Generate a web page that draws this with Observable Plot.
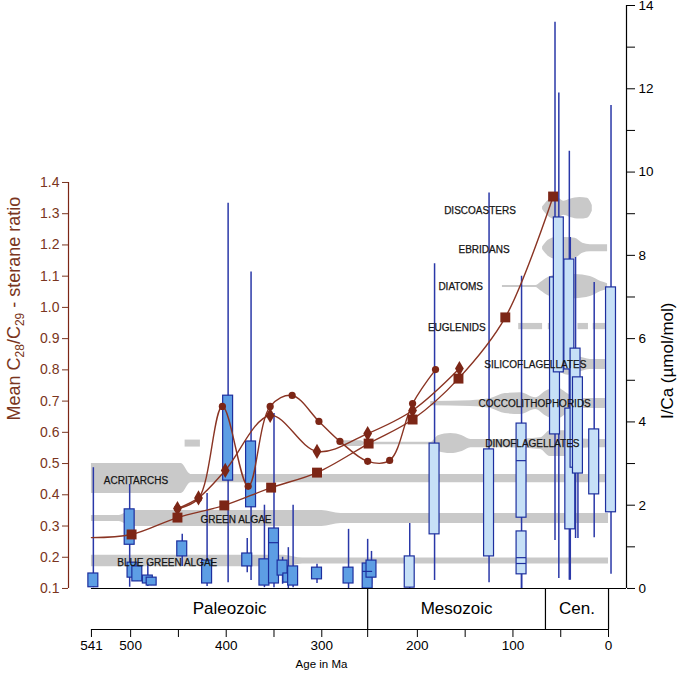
<!DOCTYPE html>
<html><head><meta charset="utf-8">
<script src="https://cdn.jsdelivr.net/npm/d3@7"></script>
<script src="https://cdn.jsdelivr.net/npm/@observablehq/plot@0.6"></script>
<style>body{margin:0;background:#fff} #chart svg{display:block}</style>
</head><body><div id="chart"></div>
<script>
// ---------------- DATA ----------------
// axes
const leftTicks = [0.1,0.2,0.3,0.4,0.5,0.6,0.7,0.8,0.9,1.0,1.1,1.2,1.3,1.4];
const rightTicksMajor = [0,2,4,6,8,10,12,14];
const rightTicksMinor = [1,3,5,7,9,11,13];
const ageTicksMajor = [541,500,400,300,200,100,0];
const ageTicksMinor = [450,350,252,150,50];
const eraNames = ["Paleozoic","Mesozoic","Cen."];
const eraStart = [541,252,66];
const eraEnd = [252,66,0];

// I/Ca box plots (age in Ma, µmol/mol)
const boxAge  = [539,501,498,493,482,478,446,420,398,378,374,360,350,341,335,330,305,272,252,248, 208,182,125,91,91,56,52,41,40,34.5,32,15,-2.6];
const boxLow  = [0.02,0.03,0.26,0.17,0.05,0.07,0.53,0.05,0.14,0.38,0.19,0.02,0.02,0.10,0.00,0.02,0.12,0.00,0.00,0.10, 0.00,0.19,0.14,0.00,0.00,1.15,0.24,0.20,0.20,1.20,1.20,1.22,0.34];
const boxQ1   = [0.03,1.05,0.26,0.17,0.12,0.07,0.77,0.12,2.59,0.53,1.95,0.07,0.12,0.31,0.14,0.07,0.22,0.12,0.00,0.26, 0.02,1.30,0.77,1.70,0.34,3.70,5.19,5.26,1.42,2.90,2.76,2.26,1.83];
const boxQ3   = [0.36,1.90,0.62,0.53,0.31,0.26,1.13,0.67,4.63,0.84,3.53,0.70,1.44,0.67,0.36,0.53,0.50,0.50,0.60,0.67, 0.77,3.48,3.34,3.96,1.37,7.47,8.91,7.90,4.32,5.76,5.07,3.82,7.23];
const boxHigh = [2.90,2.50,0.62,0.53,0.62,0.26,1.30,2.28,9.25,1.20,7.60,2.00,4.20,0.75,0.98,2.00,0.58,1.42,1.18,0.89, 1.56,7.80,9.50,7.50,1.37,13.6,11.9,10.5,8.43,7.95,5.07,7.35,11.6];
const boxEra  = ["P","P","P","P","P","P","P","P","P","P","P","P","P","P","P","P","P","P","P","P", "M","M","M","M","M","M","M","M","M","M","M","M","M"];
const medAge = [350,252,91,91,91];
const medVal = [1.10,0.41,3.07,0.60,0.74];

// Mean C28/C29 sterane ratio series
const sqAge   = [541,499,451,402,353,305,251,205,157,108,58];
const sqRatio = [0.263,0.273,0.327,0.366,0.423,0.471,0.564,0.641,0.772,0.968,1.355];
const sqMarker = [false,true,true,true,true,true,true,true,true,true,true];
const ciAge   = [451,429,404,377,354,331,303,281,252,229,205,181];
const ciRatio = [0.356,0.388,0.683,0.427,0.683,0.718,0.635,0.571,0.507,0.510,0.692,0.801];
const diAge   = [451,429,401,354,305,252,205,156];
const diRatio = [0.356,0.390,0.478,0.654,0.539,0.596,0.670,0.804];

// taxa ranges (centre on I/Ca scale, half-thickness in I/Ca units)
const taxaNames  = ["DISCOASTERS","EBRIDANS","DIATOMS","EUGLENIDS","SILICOFLAGELLATES","COCCOLITHOPHORIDS","DINOFLAGELLATES","ACRITARCHS","GREEN ALGAE","BLUE GREEN ALGAE"];
const taxaCenter = [9.13,8.17,7.25,6.29,5.38,4.44,3.48,2.64,1.68,0.66];
const taxaLabelAge = [172,157,178,189,130,136,129,528,427,514];
const taxaLabelVal = [9.08,8.14,7.25,6.27,5.38,4.44,3.48,2.59,1.66,0.62];

const discoAges = [69,63,57,52,47,40,30,22,17];
const discoHW   = [0.03,0.19,0.26,0.24,0.17,0.22,0.26,0.24,0.07];
const ebriAges  = [69,63,55,45,35,27,19,1];
const ebriHW    = [0.03,0.19,0.26,0.26,0.24,0.12,0.085,0.085];
const diatAges  = [111,76,71,63,50,35,19,8,1];
const diatHW    = [0.024,0.024,0.10,0.22,0.29,0.29,0.24,0.12,0.07];
const eugSegStart = [94,63,32,16];
const eugSegEnd   = [69,45,21,1];
const eugHW = 0.075;
const silAges = [56,50,42,31,19,1];
const silHW   = [0.05,0.19,0.26,0.19,0.12,0.12];
const cocAges = [186,144,123,108,92,76,66,54,43,34,19,1];
const cocHW   = [0.05,0.07,0.12,0.24,0.26,0.14,0.29,0.38,0.24,0.12,0.12,0.12];
const dinoAgesA = [443,427];
const dinoHWA   = [0.084,0.084];
const dinoAgesB = [277,259,255,186,178,165,153,144,103,71,61,45,34,19,1];
const dinoHWB   = [0.07,0.07,0.03,0.03,0.19,0.24,0.19,0.10,0.10,0.14,0.31,0.31,0.14,0.10,0.10];
const acriAges = [541,447,437,400,0];
const acriHW   = [0.36,0.36,0.10,0.10,0.10];
const greenAges = [541,512,500,300,280,0];
const greenHW   = [0.07,0.07,0.19,0.19,0.12,0.12];
const bgAges = [541,340,320,0];
const bgHW   = [0.14,0.14,0.07,0.07];

// ---------------- BUILD ----------------
const toV = r => (r - 0.1) * 7.5;          // sterane ratio -> I/Ca axis units
const fromV = v => v / 7.5 + 0.1;
const xDomain = [565, -18.8];
const eraBottom = -0.985;

const maroon = "#7c2616";
const maroonLine = "#8a3423";
const maroonText = "#7a3520";
const grey = "#c9c9c9";
const blueLine = "#2a38a8";

const boxes = boxAge.map((a,i) => ({age:a, low:boxLow[i], q1:boxQ1[i], q3:boxQ3[i], high:boxHigh[i], era:boxEra[i]}));
const meds = medAge.map((a,i) => ({age:a, v:medVal[i]}));
const halfBox = 5.2;

const shapes = [];
function addShape(name, center, ages, hws, seg) {
  ages.forEach((a,i) => shapes.push({seg: name + seg, age: a, lo: center - hws[i], hi: center + hws[i]}));
}
addShape("disco", taxaCenter[0], discoAges, discoHW, 0);
addShape("ebri", taxaCenter[1], ebriAges, ebriHW, 0);
addShape("diat", taxaCenter[2], diatAges, diatHW, 0);
eugSegStart.forEach((s,i) => addShape("eug", taxaCenter[3], [s, eugSegEnd[i]], [eugHW, eugHW], i));
addShape("sil", taxaCenter[4], silAges, silHW, 0);
addShape("coc", taxaCenter[5], cocAges, cocHW, 0);
addShape("dino", taxaCenter[6], dinoAgesA, dinoHWA, 0);
addShape("dino", taxaCenter[6], dinoAgesB, dinoHWB, 1);
addShape("acri", taxaCenter[7], acriAges, acriHW, 0);
addShape("green", taxaCenter[8], greenAges, greenHW, 0);
addShape("bg", taxaCenter[9], bgAges, bgHW, 0);

const labels = taxaNames.map((n,i) => ({name:n, age:taxaLabelAge[i], v:taxaLabelVal[i]}));
const sq = sqAge.map((a,i) => ({age:a, v:toV(sqRatio[i]), m:sqMarker[i]}));
const ci = ciAge.map((a,i) => ({age:a, v:toV(ciRatio[i])}));
const di = diAge.map((a,i) => ({age:a, v:toV(diRatio[i])}));
const eras = eraNames.map((n,i) => ({name:n, s:eraStart[i], e:eraEnd[i]}));

const leftTitle = "Mean C28/C29 - sterane ratio";

const chart = Plot.plot({
  width: 685, height: 677,
  marginLeft: 68, marginRight: 59, marginTop: 5, marginBottom: 48,
  style: {fontFamily: "'Liberation Sans', Arial, sans-serif", fontSize: "13px", color: "#000", background: "#fff", overflow: "visible"},
  x: {domain: xDomain},
  y: {domain: [eraBottom, 14]},
  marks: [
    // taxa ranges
    Plot.areaY(shapes, {x: "age", y1: "lo", y2: "hi", z: "seg", fill: grey, curve: "monotone-x"}),
    // box plots
    Plot.ruleX(boxes, {x: "age", y1: "low", y2: "high", stroke: blueLine, strokeWidth: 1.5}),
    Plot.rect(boxes, {x1: d => d.age + halfBox, x2: d => d.age - halfBox, y1: "q1", y2: "q3",
      fill: d => d.era === "P" ? "#5d9ee4" : "#c6e0f7", stroke: "#1d2f9e", strokeWidth: 1.2}),
    Plot.ruleY(meds, {y: "v", x1: d => d.age + halfBox, x2: d => d.age - halfBox, stroke: "#1d2f9e", strokeWidth: 1.2}),
    // sterane ratio series
    Plot.line(sq, {x: "age", y: "v", stroke: maroonLine, strokeWidth: 1.4, curve: "catmull-rom"}),
    Plot.line(ci, {x: "age", y: "v", stroke: maroonLine, strokeWidth: 1.4, curve: "catmull-rom"}),
    Plot.line(di, {x: "age", y: "v", stroke: maroonLine, strokeWidth: 1.4, curve: "catmull-rom"}),
    Plot.dot(ci, {x: "age", y: "v", r: 3.6, fill: maroon, symbol: "circle"}),
    Plot.dot(di, {x: "age", y: "v", r: 4.6, fill: maroon, symbol: "diamond"}),
    Plot.dot(sq.filter(d => d.m), {x: "age", y: "v", r: 5.6, fill: maroon, symbol: "square"}),
    // taxa labels
    Plot.text(labels, {x: "age", y: "v", text: "name", textAnchor: "start", fontSize: 10, fill: "#151515", stroke: "#151515", strokeWidth: 0.25}),
    // era band
    Plot.ruleY([0], {x1: eraStart[0], x2: xDomain[1], stroke: "#000", strokeWidth: 1.2}),
    Plot.ruleY([eraBottom], {x1: eraStart[0], x2: eraEnd[2], stroke: "#000", strokeWidth: 1.2}),
    Plot.ruleX(eras, {x: "e", y1: eraBottom, y2: 0, stroke: "#000", strokeWidth: 1.2}),
    Plot.text(eras, {x: d => (d.s + d.e) / 2, y: eraBottom / 2, text: "name", fontSize: 17}),
    // bottom axis
    Plot.axisX(ageTicksMajor, {anchor: "bottom", tickSize: 8, tickPadding: 3, fontSize: 13.5, label: null, tickFormat: d => String(d)}),
    Plot.axisX(ageTicksMinor, {anchor: "bottom", tickSize: 8, tickFormat: () => "", label: null}),
    Plot.text(["Age in Ma"], {frameAnchor: "bottom", dx: -26, dy: 38, fontSize: 11.5}),
    // left axis (sterane ratio)
    Plot.ruleX([xDomain[0]], {y1: toV(leftTicks[0]), y2: toV(leftTicks[leftTicks.length-1]), stroke: maroon, strokeWidth: 1.2}),
    Plot.axisY(leftTicks.map(toV), {anchor: "left", tickSize: 6, tickPadding: 3, tickFormat: v => fromV(v).toFixed(1), color: maroonText, fontSize: 14, label: null}),
    Plot.text([leftTitle], {frameAnchor: "left", dx: -54, dy: 103, rotate: -90, fontSize: 18, fill: maroonText}),
    // right axis (I/Ca)
    Plot.ruleX([xDomain[1]], {y1: 0, y2: 14, stroke: "#000", strokeWidth: 1.2}),
    Plot.axisY(rightTicksMajor, {anchor: "right", tickSize: 8, tickPadding: 4, fontSize: 13.5, label: null}),
    Plot.axisY(rightTicksMinor, {anchor: "right", tickSize: 8, tickFormat: () => "", label: null}),
    Plot.text(["I/Ca (µmol/mol)"], {frameAnchor: "right", dx: 41, dy: -15, rotate: -90, fontSize: 17})
  ]
});

// subscripts in left title
d3.select(chart).selectAll("text").filter(function(){ return this.textContent === leftTitle; }).each(function(){
  const t = d3.select(this); t.text(null);
  t.append("tspan").text("Mean C");
  t.append("tspan").attr("dy", 4).attr("font-size", 12).text("28");
  t.append("tspan").attr("dy", -4).text("/C");
  t.append("tspan").attr("dy", 4).attr("font-size", 12).text("29");
  t.append("tspan").attr("dy", -4).text(" - sterane ratio");
});
document.getElementById("chart").append(chart);
</script>
</body></html>
